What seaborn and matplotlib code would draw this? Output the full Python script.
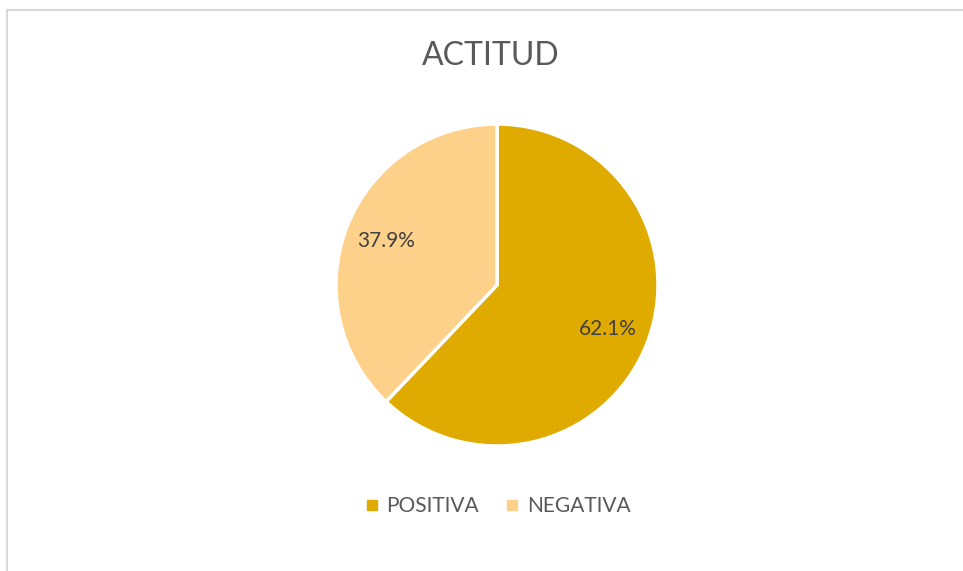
import matplotlib
matplotlib.use("Agg")
import matplotlib.pyplot as plt
from matplotlib.lines import Line2D
from matplotlib.patches import Rectangle
import seaborn as sns

# data
categories = ["POSITIVA", "NEGATIVA"]
percentages = [62.1, 37.9]
colors = ["#E0AB00", "#FED18A"]
title = "ACTITUD"

sns.set_theme(style="white")
plt.rcParams["font.family"] = ["Lato", "DejaVu Sans"]

W, H = 963, 571
fig = plt.figure(figsize=(W / 100, H / 100), dpi=100)
fig.patch.set_facecolor("white")

# pie placement (pixel coords, top-left origin)
cx, cy, r = 497, 285, 161
pad = 1.02
half = r * pad
ax = fig.add_axes([(cx - half) / W, 1 - (cy + half) / H, 2 * half / W, 2 * half / H])

wedges, texts, autotexts = ax.pie(
    percentages,
    colors=colors,
    startangle=90,
    counterclock=False,
    autopct=lambda p: f"{p:.1f}%",
    pctdistance=0.74,
    wedgeprops=dict(edgecolor="white", linewidth=2.5),
    textprops=dict(color="#404040", fontsize=15),
)
ax.set_xlim(-pad, pad)
ax.set_ylim(-pad, pad)
ax.set_aspect("equal")

fig.text(491 / W, 1 - 56 / H, title, ha="center", va="center",
         fontsize=23, color="#595959")

handles = [Line2D([0], [0], marker="s", linestyle="", markersize=7,
                  markerfacecolor=c, markeredgecolor=c) for c in colors]
leg = fig.legend(handles, categories, loc="center", ncol=2,
                 bbox_to_anchor=(cx / W, 1 - 506 / H), frameon=False,
                 fontsize=15, handlelength=0.8, handletextpad=0.3,
                 columnspacing=1.2)
for t in leg.get_texts():
    t.set_color("#595959")

# chart area border
fig.patches.append(Rectangle((7 / W, -0.1), 1.2, 1 - 10 / H + 0.1,
                             transform=fig.transFigure, fill=False,
                             edgecolor="#D9D9D9", linewidth=1.5))

fig.savefig("out.png", dpi=100)
